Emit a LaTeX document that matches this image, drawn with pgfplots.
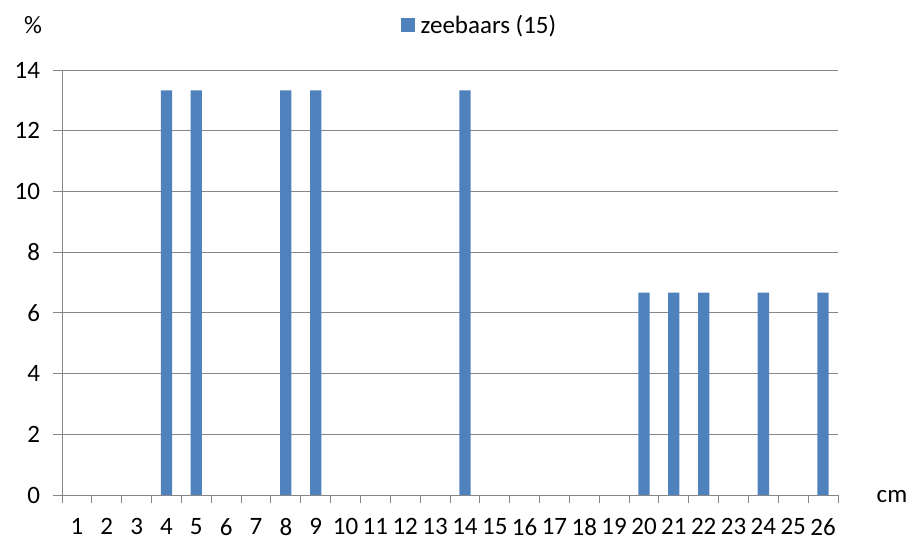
\documentclass[border=0pt]{standalone}
\usepackage{pgfplots}
\pgfplotsset{compat=1.18}
\usepackage{fontspec}
\setmainfont{Carlito}
\definecolor{barblue}{HTML}{4F81BD}
\definecolor{gridgray}{HTML}{868686}
\begin{document}
\begin{tikzpicture}[x=1pt,y=1pt]
\path[use as bounding box] (0,0) rectangle (914,540);
\begin{axis}[
  at={(62pt,45pt)}, anchor=south west,
  scale only axis, width=776pt, height=425pt,
  xmin=0.5, xmax=26.5, ymin=0, ymax=14,
  axis x line*=bottom, axis y line*=left,
  axis line style={gridgray, line width=0.9pt},
  xtick={0.5,1.5,...,26.5}, xticklabels={},
  extra x ticks={1,...,26},
  extra x tick style={major tick length=0pt, xticklabel style={yshift=-20pt, inner xsep=0pt, text depth=0pt}},
  extra x tick labels={1,2,3,4,5,6,7,8,9,10,11,12,13,14,15,16,17,18,19,20,21,22,23,24,25,26},
  ytick={0,2,...,14},
  ymajorgrids, grid style={gridgray, line width=0.9pt},
  tick align=outside,
  major tick length=8.5pt,
  tick style={gridgray, line width=0.9pt},
  tick label style={font=\fontsize{25}{25}\selectfont, text=black},
  /pgf/number format/assume math mode=true,
  yticklabel style={xshift=-10pt},
  ybar, bar width=11.3pt, bar shift=0pt,
  legend style={at={(axis description cs:0.538,1.106)}, anchor=center, draw=none, fill=none,
    font=\fontsize{25}{25}\selectfont, legend cell align=left},
  legend image code/.code={\fill[#1, draw=none] (0pt,-7pt) rectangle (14pt,7pt);},
]
\addplot[fill=barblue, draw=none] coordinates {
(4,13.33) (5,13.33) (8,13.33) (9,13.33) (14,13.33)
(20,6.67) (21,6.67) (22,6.67) (24,6.67) (26,6.67)};
\addlegendentry{\hspace{4pt}zeebaars (15)}
\end{axis}
\node[font=\fontsize{25}{25}\selectfont, anchor=center] at (33,515) {\%};
\node[font=\fontsize{25}{25}\selectfont, anchor=center] at (892,43) {cm};
\end{tikzpicture}
\end{document}
